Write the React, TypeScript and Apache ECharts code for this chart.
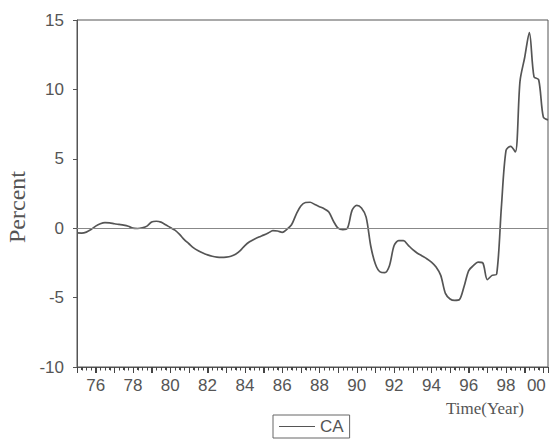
import React, { useEffect, useRef } from "react";
import * as echarts from "echarts";

// Quarterly current-account series, starting 1975Q1
const startYear = 1975;
const quartersPerYear = 4;
const ca: number[] = [
  -0.34, -0.35, -0.28, -0.1,
  0.15, 0.32, 0.4, 0.38,
  0.32, 0.27, 0.22, 0.14,
  0.0, -0.02, 0.03, 0.15,
  0.45, 0.5, 0.44, 0.25,
  0.05, -0.14, -0.45, -0.82,
  -1.12, -1.42, -1.62, -1.78,
  -1.92, -2.02, -2.08, -2.1,
  -2.08, -2.02, -1.88, -1.62,
  -1.25, -0.98, -0.8, -0.64,
  -0.5, -0.35, -0.18, -0.2,
  -0.3, -0.08, 0.25, 1.0,
  1.6, 1.85, 1.87, 1.7,
  1.55, 1.4, 1.17, 0.5,
  0.0, -0.1, 0.0, 1.3,
  1.65, 1.45, 0.8, -1.3,
  -2.6, -3.15, -3.2, -2.7,
  -1.25, -0.9, -0.9, -1.22,
  -1.55, -1.8, -2.0, -2.2,
  -2.45, -2.8, -3.4, -4.7,
  -5.1, -5.2, -5.15, -4.2,
  -3.05, -2.7, -2.45, -2.5,
  -3.7, -3.4, -3.3, 1.5,
  5.6, 5.9, 5.5, 10.6,
  12.3, 14.1, 10.9, 10.7,
  8.0, 7.8,
];
const yTicks = [-10, -5, 0, 5, 10, 15];
const xMin = 1975;
const xMax = 2000.25;
const lastYearLabel = 2000;
const seriesName = "CA";
const yName = "Percent";
const xName = "Time(Year)";

export default function App() {
  const ref = useRef<HTMLDivElement>(null);
  useEffect(() => {
    if (!ref.current) return;
    const chart = echarts.init(ref.current, null, { renderer: "svg" });
    const data = ca.map((v, i) => [startYear + i / quartersPerYear, v]);
    const yMin = yTicks[0];
    const quarterTicks: number[][] = [];
    for (let i = 0; startYear + i / quartersPerYear <= xMax + 1e-9; i++) {
      quarterTicks.push([startYear + i / quartersPerYear, yMin, i % quartersPerYear === 0 ? 1 : 0]);
    }
    const ink = "#555";
    const axisFont = { color: ink, fontFamily: "Liberation Sans, Arial", fontSize: 17 };
    chart.setOption({
      animation: false,
      backgroundColor: "#fff",
      grid: {
        left: 77,
        top: 20,
        right: 3,
        bottom: 74,
        show: true,
        borderColor: ink,
        borderWidth: 1,
        containLabel: false,
        outerBoundsMode: "none",
      },
      legend: {
        data: [seriesName],
        left: 273,
        top: 415,
        orient: "horizontal",
        borderColor: "#666",
        borderWidth: 1,
        padding: [3, 6, 3, 6],
        icon: "rect",
        itemWidth: 36,
        itemHeight: 1,
        itemGap: 4,
        textStyle: axisFont,
      },
      xAxis: {
        type: "value",
        position: "bottom",
        min: xMin,
        max: xMax,
        interval: 1,
        axisLine: { show: true, onZero: false, lineStyle: { color: ink, width: 1 } },
        axisTick: { show: true, inside: false, length: 6, lineStyle: { color: "#444", width: 1 } },
        minorTick: { show: true, splitNumber: 4, length: 3, lineStyle: { color: "#444", width: 1 } },
        splitLine: { show: false },
        axisLabel: {
          margin: 10,
          interval: 0,
          hideOverlap: false,
          ...axisFont,
          formatter: (v: number) => {
            const y = Math.round(v);
            if (Math.abs(v - y) > 1e-6 || y % 2 !== 0) return "";
            const s = String(y % 100).padStart(2, "0");
            return y === lastYearLabel ? "{last|" + s + "}" : s;
          },
          rich: { last: { ...axisFont, padding: [0, 14, 0, 0] } },
        },
      },
      yAxis: {
        type: "value",
        min: yTicks[0],
        max: yTicks[yTicks.length - 1],
        interval: 5,
        axisLine: { show: true, onZero: false, lineStyle: { color: ink, width: 1 } },
        axisTick: { show: true, length: 4, lineStyle: { color: ink } },
        splitLine: { show: false },
        axisLabel: { margin: 13, ...axisFont },
      },
      graphic: [
        {
          type: "text",
          x: 17,
          y: 207,
          rotation: Math.PI / 2,
          style: {
            text: yName,
            fontFamily: "Liberation Serif, Times New Roman",
            fontSize: 24,
            fill: ink,
            align: "center",
            verticalAlign: "middle",
          },
        },
        {
          type: "text",
          x: 485,
          y: 408,
          style: {
            text: xName,
            fontFamily: "Liberation Serif, Times New Roman",
            fontSize: 17,
            fill: ink,
            align: "center",
            verticalAlign: "middle",
          },
        },
      ],
      series: [
        {
          name: seriesName,
          type: "line",
          data,
          showSymbol: false,
          symbol: "none",
          smooth: 0.3,
          lineStyle: { color: ink, width: 1.7 },
          itemStyle: { color: ink },
          markLine: {
            silent: true,
            symbol: "none",
            label: { show: false },
            lineStyle: { color: "#888", width: 1, type: "solid" },
            data: [{ yAxis: 0 }],
          },
        },
        {
          name: "quarter ticks",
          type: "custom",
          silent: true,
          clip: false,
          z: 20,
          data: quarterTicks,
          renderItem: (_params: any, api: any) => {
            const p = api.coord([api.value(0), api.value(1)]);
            const h = api.value(2) === 1 ? 6 : 3.5;
            return {
              type: "rect",
              shape: { x: Math.round(p[0]), y: p[1], width: 1, height: h },
              style: { fill: "#444" },
            };
          },
        },
      ],
    });
    return () => chart.dispose();
  }, []);
  return (
    <div
      ref={ref}
      style={{ position: "fixed", left: 0, top: 0, width: 551, height: 441 }}
    />
  );
}
